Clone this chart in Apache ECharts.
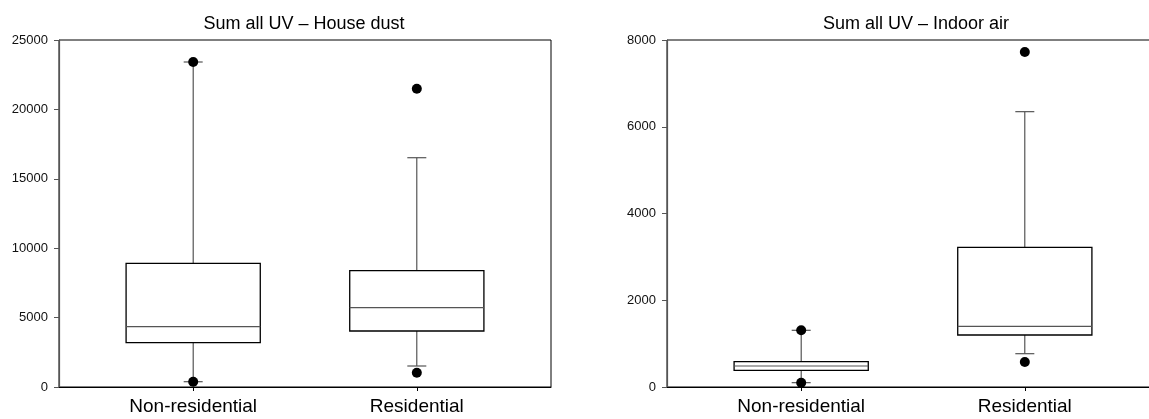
<!DOCTYPE html>
<html>
<head>
<meta charset="utf-8">
<script src="https://cdn.jsdelivr.net/npm/echarts@6/dist/echarts.min.js"></script>
<style>
  html, body { margin: 0; padding: 0; background: #fff; }
  #chart { width: 1149px; height: 419px; }
</style>
</head>
<body>
<div id="chart"></div>
<script>
// Groups shown on both panels (x positions 1 and 2)
const categories = ['Non-residential', 'Residential'];

// House dust: box-plot statistics per group
const dustWhiskerLow  = [382, 1513];
const dustQ1          = [3192, 4035];
const dustMedian      = [4345, 5715];
const dustQ3          = [8912, 8381];
const dustWhiskerHigh = [23415, 16520];
const dustOutlierLow  = [382, 1031];
const dustOutlierHigh = [23415, 21491];

// Indoor air: box-plot statistics per group
const airWhiskerLow  = [100, 768];
const airQ1          = [384, 1199];
const airMedian      = [484, 1399];
const airQ3          = [584, 3220];
const airWhiskerHigh = [1307, 6348];
const airOutlierLow  = [100, 576];
const airOutlierHigh = [1307, 7723];

// Y-axis ranges / tick steps
const dustTicks = { min: 0, max: 25000, interval: 5000 };
const airTicks  = { min: 0, max: 8000, interval: 2000 };

const titles = ['Sum all UV \u2013 House dust', 'Sum all UV \u2013 Indoor air'];

function boxRows(lo, q1, med, q3, hi) {
  return categories.map((c, i) => [i + 1, lo[i], q1[i], med[i], q3[i], hi[i]]);
}
function outlierRows(low, high) {
  const rows = [];
  categories.forEach((c, i) => { rows.push([i + 1, low[i]]); rows.push([i + 1, high[i]]); });
  return rows;
}

// Draw one box with whiskers and short caps
function renderBox(params, api) {
  const x = api.value(0);
  const pLo = api.coord([x, api.value(1)]);
  const pQ1 = api.coord([x, api.value(2)]);
  const pMed = api.coord([x, api.value(3)]);
  const pQ3 = api.coord([x, api.value(4)]);
  const pHi = api.coord([x, api.value(5)]);
  const half = api.size([0.6, 0])[0] / 2;
  const cap = 9.5;
  const cx = pMed[0];
  const whisker = { stroke: '#333', lineWidth: 1 };
  const capStyle = { stroke: '#555', lineWidth: 1.2 };
  return {
    type: 'group',
    children: [
      { type: 'line', shape: { x1: cx, y1: pHi[1], x2: cx, y2: pQ3[1] }, style: whisker },
      { type: 'line', shape: { x1: cx, y1: pQ1[1], x2: cx, y2: pLo[1] }, style: whisker },
      { type: 'line', shape: { x1: cx - cap, y1: pHi[1], x2: cx + cap, y2: pHi[1] }, style: capStyle },
      { type: 'line', shape: { x1: cx - cap, y1: pLo[1], x2: cx + cap, y2: pLo[1] }, style: capStyle },
      { type: 'rect', shape: { x: cx - half, y: pQ3[1], width: half * 2, height: pQ1[1] - pQ3[1] },
        style: { fill: '#fff', stroke: '#000', lineWidth: 1.3 } },
      { type: 'line', shape: { x1: cx - half, y1: pMed[1], x2: cx + half, y2: pMed[1] },
        style: { stroke: '#555', lineWidth: 1.2 } }
    ]
  };
}

const fontMain = 'Arial, "Liberation Sans", sans-serif';
const panels = [
  { left: 59, titleX: 299, ticks: dustTicks,
    box: boxRows(dustWhiskerLow, dustQ1, dustMedian, dustQ3, dustWhiskerHigh),
    out: outlierRows(dustOutlierLow, dustOutlierHigh) },
  { left: 667, titleX: 911, ticks: airTicks,
    box: boxRows(airWhiskerLow, airQ1, airMedian, airQ3, airWhiskerHigh),
    out: outlierRows(airOutlierLow, airOutlierHigh) }
];
const frameW = 492;

const option = {
  backgroundColor: '#fff',
  animation: false,
  title: panels.map((p, i) => ({
    text: titles[i],
    left: p.titleX,
    textAlign: 'center',
    top: 10,
    textStyle: { fontFamily: fontMain, fontSize: 18, fontWeight: 'normal', color: '#000' }
  })),
  grid: panels.map(p => ({
    left: p.left, top: 40, width: frameW, height: 347,
    outerBoundsMode: 'none',
    show: true, borderColor: '#000', borderWidth: 1, backgroundColor: 'transparent'
  })),
  xAxis: panels.map((p, i) => ({
    type: 'value', gridIndex: i, min: 0.4, max: 2.6,
    splitLine: { show: false },
    axisLine: { show: true, lineStyle: { color: '#000', width: 1 } },
    axisTick: { show: true, customValues: [1, 2], length: 4, lineStyle: { color: '#000' } },
    axisLabel: {
      customValues: [1, 2], margin: 10,
      formatter: v => categories[Math.round(v) - 1] || '',
      fontFamily: fontMain, fontSize: 19, color: '#000'
    }
  })),
  yAxis: panels.map((p, i) => ({
    type: 'value', gridIndex: i,
    min: p.ticks.min, max: p.ticks.max, interval: p.ticks.interval,
    splitLine: { show: false },
    axisLine: { show: true, lineStyle: { color: '#555', width: 1.2 } },
    axisTick: { show: true, length: 5, lineStyle: { color: '#555' } },
    axisLabel: { margin: 11, fontFamily: fontMain, fontSize: 13, color: '#111', formatter: v => String(v) }
  })),
  series: panels.flatMap((p, i) => [
    {
      type: 'custom', xAxisIndex: i, yAxisIndex: i,
      renderItem: renderBox,
      encode: { x: 0, y: [1, 2, 3, 4, 5] },
      data: p.box
    },
    {
      type: 'scatter', xAxisIndex: i, yAxisIndex: i,
      symbol: 'circle', symbolSize: 10,
      itemStyle: { color: '#000', opacity: 1 },
      z: 3,
      data: p.out
    }
  ])
};

const chart = echarts.init(document.getElementById('chart'), null, { renderer: 'canvas' });
chart.setOption(option);
</script>
</body>
</html>
